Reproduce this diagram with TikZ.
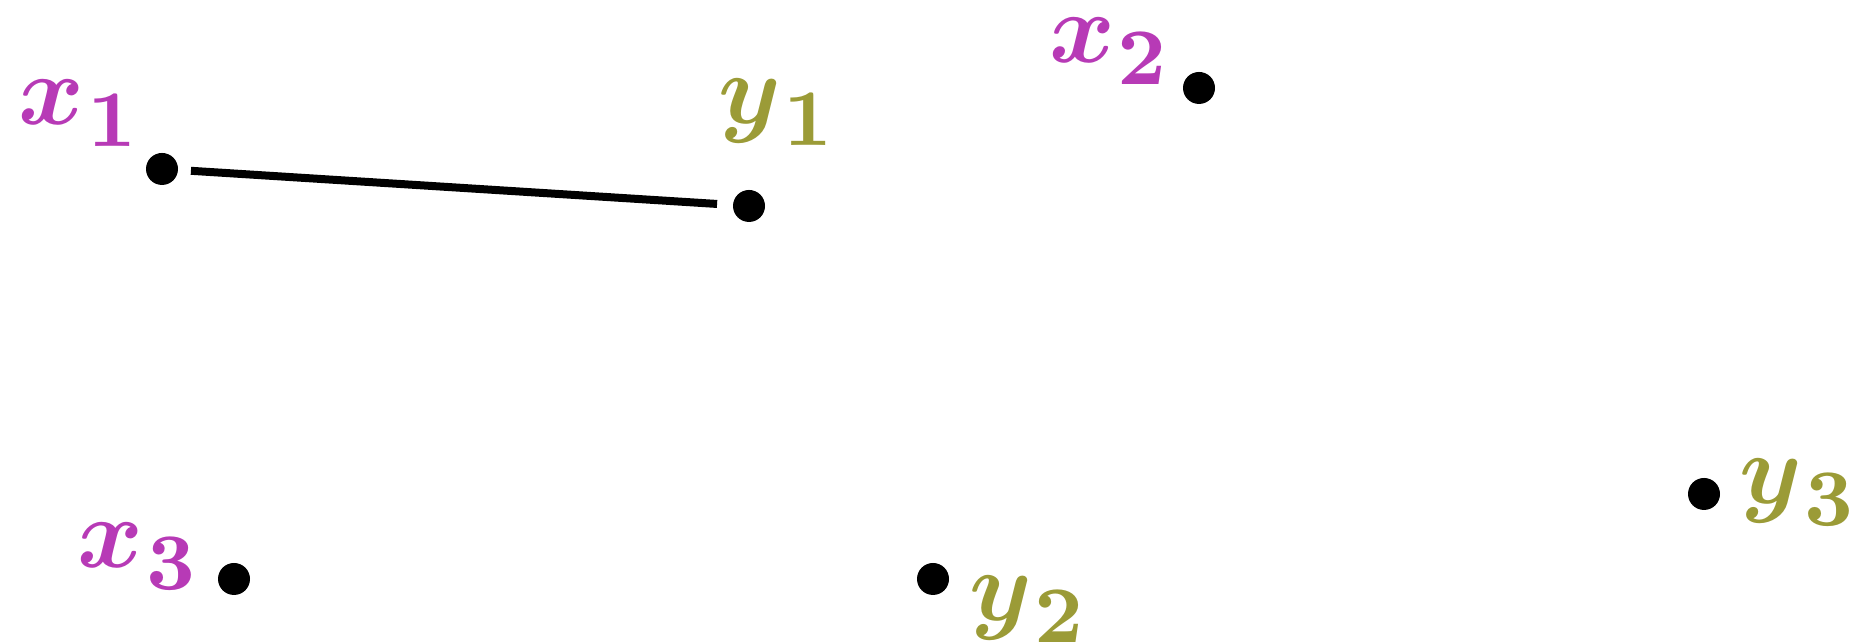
\documentclass[tikz,border=0pt]{standalone}
\usepackage{bm}
\definecolor{mag}{RGB}{183,58,182}
\definecolor{olv}{RGB}{155,155,55}
\newcommand\sublab[2]{$\bm{#1}$\kern0.25pt\raisebox{-2.2pt}{\fontsize{8}{9}\selectfont$\bm{#2}$}}
\begin{document}
\begin{tikzpicture}[x=0.1pt,y=-0.1pt,
  dot/.style={circle,fill=black,inner sep=0pt,minimum size=3.2pt},
  lab/.style={anchor=base west,inner sep=0pt,font=\fontsize{10}{12}\selectfont},
  xl/.style={lab,text=mag},
  yl/.style={lab,text=olv},
  edge/.style={line width=0.8pt,shorten <=1.1pt,shorten >=1.4pt}]
\useasboundingbox (0,0) rectangle (1851,644);
\node[dot] (x1) at (162,169) {};
\node[dot] (y1) at (749,206) {};
\node[dot] (x2) at (1199,88) {};
\node[dot] (x3) at (234,579) {};
\node[dot] (y2) at (933,579) {};
\node[dot] (y3) at (1704,494) {};
\node[xl] (lx1) at (17,125) {\sublab{x}{1}};
\node[yl] (ly1) at (716,124) {\sublab{y}{1}};
\node[xl] (lx2) at (1047,63) {\sublab{x}{2}};
\node[xl] (lx3) at (76,568) {\sublab{x}{3}};
\node[yl] (ly2) at (967,621) {\sublab{y}{2}};
\node[yl] (ly3) at (1737,504) {\sublab{y}{3}};
\draw[edge] (x1) -- (y1);
\end{tikzpicture}
\end{document}
